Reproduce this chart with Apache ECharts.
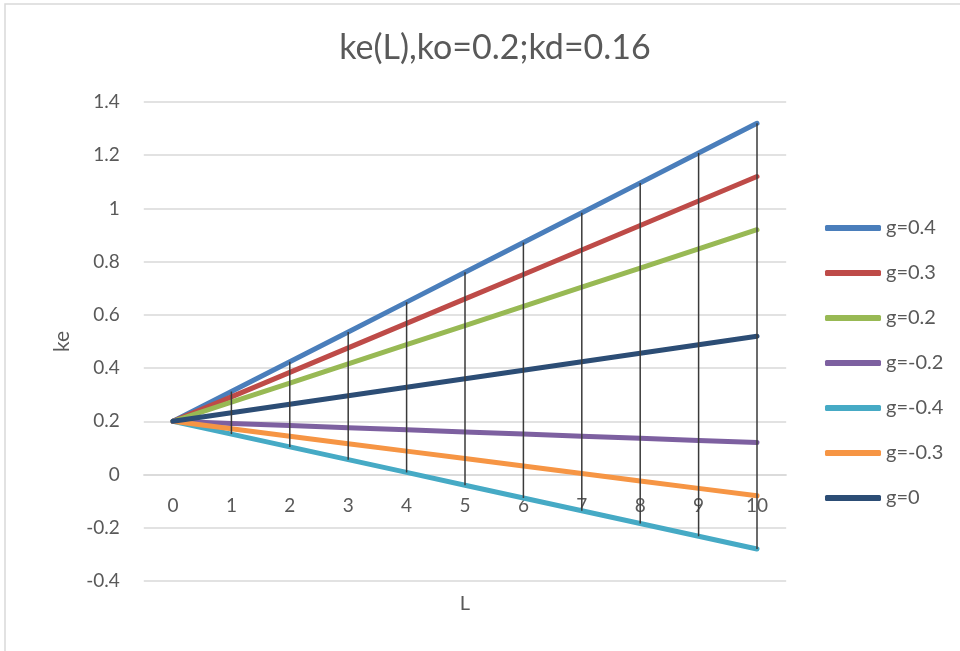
<!DOCTYPE html>
<html>
<head>
<meta charset="utf-8">
<script src="https://cdn.jsdelivr.net/npm/echarts@6/dist/echarts.min.js"></script>
<style>html,body{margin:0;padding:0;background:#fff}#c{width:960px;height:651px}</style>
</head>
<body>
<div id="c"></div>
<script>
var categories = ['0','1','2','3','4','5','6','7','8','9','10'];
var seriesNames = ['g=0.4','g=0.3','g=0.2','g=-0.2','g=-0.4','g=-0.3','g=0'];
var g04  = [0.2, 0.312, 0.424, 0.536, 0.648, 0.76, 0.872, 0.984, 1.096, 1.208, 1.32];
var g03  = [0.2, 0.292, 0.384, 0.476, 0.568, 0.66, 0.752, 0.844, 0.936, 1.028, 1.12];
var g02  = [0.2, 0.272, 0.344, 0.416, 0.488, 0.56, 0.632, 0.704, 0.776, 0.848, 0.92];
var gm02 = [0.2, 0.192, 0.184, 0.176, 0.168, 0.16, 0.152, 0.144, 0.136, 0.128, 0.12];
var gm04 = [0.2, 0.152, 0.104, 0.056, 0.008, -0.04, -0.088, -0.136, -0.184, -0.232, -0.28];
var gm03 = [0.2, 0.172, 0.144, 0.116, 0.088, 0.06, 0.032, 0.004, -0.024, -0.052, -0.08];
var g0   = [0.2, 0.232, 0.264, 0.296, 0.328, 0.36, 0.392, 0.424, 0.456, 0.488, 0.52];
var yTicks = [-0.4, -0.2, 0, 0.2, 0.4, 0.6, 0.8, 1, 1.2, 1.4];

var allData = [g04, g03, g02, gm02, gm04, gm03, g0];
var colors = ['#4A7EBB', '#BE4B48', '#98B954', '#7D60A0', '#46AAC5', '#F69544', '#2C4D75'];

var hiLo = categories.map(function (c, i) {
  var vals = allData.map(function (d) { return d[i]; });
  return [i, Math.min.apply(null, vals), Math.max.apply(null, vals)];
});

var font = 'Lato, "Open Sans", sans-serif';
var txt = '#595959';

var gridTop = 102, gridBottom = 70, gridH = 651 - gridTop - gridBottom;
var yMin = yTicks[0], yMax = yTicks[yTicks.length - 1];
// place the category axis at value 0 (crossing like the original)
var zeroOffset = -gridH * (0 - yMin) / (yMax - yMin);

var series = allData.map(function (d, k) {
  return {
    name: seriesNames[k], type: 'line', data: d, symbol: 'none', z: 2 + k * 0.01,
    lineStyle: { width: 5, color: colors[k], cap: 'round', join: 'round' },
    itemStyle: { color: colors[k] }
  };
});
series.push({
  type: 'custom', data: hiLo, z: 5, silent: true,
  renderItem: function (params, api) {
    var p1 = api.coord([api.value(0), api.value(1)]);
    var p2 = api.coord([api.value(0), api.value(2)]);
    return { type: 'line', shape: { x1: p1[0], y1: p1[1], x2: p2[0], y2: p2[1] },
      style: { stroke: '#3a3a3a', lineWidth: 1.5 } };
  }
});

var chart = echarts.init(document.getElementById('c'));
chart.setOption({
  animation: false,
  backgroundColor: '#fff',
  graphic: [{ type: 'rect', shape: { x: 5, y: 4, width: 1000, height: 700 },
    style: { fill: 'none', stroke: '#D9D9D9', lineWidth: 1.5 }, silent: true }],
  title: { text: 'ke(L),ko=0.2;kd=0.16', left: 490, top: 26, textAlign: 'center',
    textStyle: { fontFamily: font, fontSize: 34, fontWeight: 'normal', color: txt } },
  legend: {
    orient: 'vertical', left: 820, top: 213, itemWidth: 56, itemHeight: 6, itemGap: 25,
    icon: 'roundRect',
    data: seriesNames,
    textStyle: { fontFamily: font, fontSize: 20, color: txt }
  },
  grid: { left: 143.8, right: 173.8, top: gridTop, bottom: gridBottom, containLabel: false, outerBoundsMode: 'none' },
  xAxis: {
    type: 'category', data: categories, boundaryGap: true,
    offset: zeroOffset,
    name: 'L', nameLocation: 'middle', nameGap: 119,
    nameTextStyle: { fontFamily: font, fontSize: 20, color: txt },
    axisLine: { onZero: false, lineStyle: { color: '#D9D9D9', width: 1.5 } },
    axisTick: { show: false },
    axisLabel: { margin: 22, fontFamily: font, fontSize: 19, color: txt },
    splitLine: { show: false }
  },
  yAxis: {
    type: 'value', min: yMin, max: yMax, interval: 0.2,
    name: 'ke', nameLocation: 'middle', nameGap: 71, nameRotate: 90,
    nameTextStyle: { fontFamily: font, fontSize: 21, color: txt },
    axisLine: { show: false }, axisTick: { show: false },
    axisLabel: { margin: 24, fontFamily: font, fontSize: 19, color: txt,
      formatter: function (v) { return String(Math.round(v * 10) / 10); } },
    splitLine: { lineStyle: { color: '#D9D9D9', width: 1.5 } }
  },
  series: series
});
</script>
</body>
</html>
